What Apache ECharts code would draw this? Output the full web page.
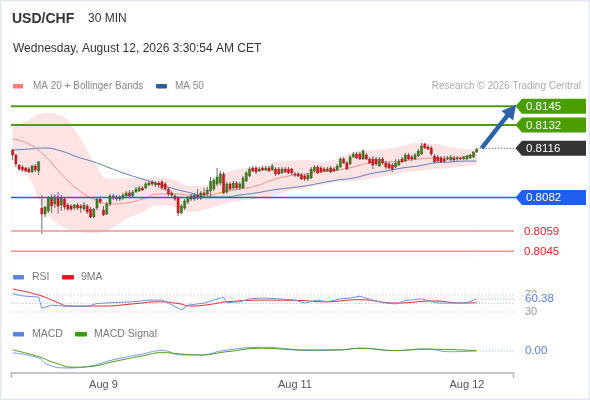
<!DOCTYPE html>
<html>
<head>
<meta charset="utf-8">
<script src="https://cdn.jsdelivr.net/npm/echarts@6/dist/echarts.min.js"></script>
<style>
html, body { margin: 0; padding: 0; background: #fff; }
#main { width: 590px; height: 400px; }
</style>
</head>
<body>
<div id="main"></div>
<script>
var chart = echarts.init(document.getElementById('main'));
var FONT = '"Liberation Sans", Arial, sans-serif';

// 30 MIN candles: [open, close, low, high]
var candles = [
  [0.81148, 0.81114, 0.81079, 0.81155], [0.81114, 0.81052, 0.81031, 0.81121], [0.81045, 0.81017, 0.81003, 0.81052],
  [0.81031, 0.81010, 0.80997, 0.81045], [0.81024, 0.81003, 0.80997, 0.81031], [0.81017, 0.80997, 0.80990, 0.81031],
  [0.80997, 0.81038, 0.80990, 0.81045], [0.81038, 0.81010, 0.80997, 0.81052], [0.81003, 0.81066, 0.80976, 0.81072],
  [0.80748, 0.80707, 0.80569, 0.80838], [0.80707, 0.80755, 0.80686, 0.80762], [0.80728, 0.80817, 0.80714, 0.80831],
  [0.80817, 0.80762, 0.80714, 0.80845], [0.80776, 0.80824, 0.80748, 0.80845], [0.80824, 0.80762, 0.80707, 0.80859],
  [0.80769, 0.80817, 0.80728, 0.80838], [0.80810, 0.80755, 0.80734, 0.80824], [0.80769, 0.80741, 0.80728, 0.80783],
  [0.80762, 0.80741, 0.80728, 0.80776], [0.80748, 0.80769, 0.80734, 0.80776], [0.80769, 0.80748, 0.80734, 0.80783],
  [0.80762, 0.80748, 0.80714, 0.80776], [0.80741, 0.80769, 0.80728, 0.80790], [0.80762, 0.80721, 0.80707, 0.80776],
  [0.80741, 0.80686, 0.80679, 0.80755], [0.80686, 0.80741, 0.80679, 0.80748], [0.80748, 0.80810, 0.80734, 0.80824],
  [0.80810, 0.80790, 0.80776, 0.80831], [0.80734, 0.80700, 0.80693, 0.80762], [0.80707, 0.80776, 0.80700, 0.80790],
  [0.80776, 0.80831, 0.80762, 0.80845], [0.80831, 0.80817, 0.80803, 0.80845], [0.80810, 0.80824, 0.80797, 0.80838],
  [0.80824, 0.80810, 0.80797, 0.80838], [0.80817, 0.80838, 0.80803, 0.80852], [0.80831, 0.80852, 0.80817, 0.80866],
  [0.80852, 0.80831, 0.80817, 0.80872], [0.80831, 0.80859, 0.80817, 0.80872], [0.80859, 0.80879, 0.80852, 0.80893],
  [0.80866, 0.80886, 0.80859, 0.80900], [0.80886, 0.80872, 0.80866, 0.80900], [0.80886, 0.80914, 0.80879, 0.80928],
  [0.80907, 0.80921, 0.80900, 0.80934], [0.80928, 0.80914, 0.80900, 0.80941], [0.80907, 0.80921, 0.80893, 0.80934],
  [0.80921, 0.80907, 0.80886, 0.80934], [0.80928, 0.80886, 0.80872, 0.80941], [0.80914, 0.80879, 0.80866, 0.80928],
  [0.80879, 0.80845, 0.80831, 0.80893], [0.80852, 0.80838, 0.80824, 0.80866], [0.80831, 0.80810, 0.80797, 0.80845],
  [0.80817, 0.80714, 0.80693, 0.80831], [0.80714, 0.80762, 0.80707, 0.80776], [0.80748, 0.80797, 0.80734, 0.80810],
  [0.80790, 0.80817, 0.80776, 0.80831], [0.80831, 0.80810, 0.80797, 0.80845], [0.80810, 0.80838, 0.80797, 0.80852],
  [0.80838, 0.80817, 0.80803, 0.80879], [0.80817, 0.80852, 0.80803, 0.80866], [0.80852, 0.80838, 0.80824, 0.80886],
  [0.80845, 0.80872, 0.80831, 0.80893], [0.80866, 0.80934, 0.80817, 0.80962], [0.80879, 0.80941, 0.80866, 0.80955],
  [0.80914, 0.80962, 0.80900, 0.81024], [0.80921, 0.80983, 0.80907, 0.81003], [0.80983, 0.80852, 0.80845, 0.80997],
  [0.80859, 0.80914, 0.80845, 0.80928], [0.80914, 0.80879, 0.80866, 0.80928], [0.80886, 0.80921, 0.80872, 0.80934],
  [0.80921, 0.80886, 0.80872, 0.80934], [0.80886, 0.80914, 0.80872, 0.80928], [0.80886, 0.80955, 0.80879, 0.80969],
  [0.80934, 0.80990, 0.80928, 0.81003], [0.80969, 0.81017, 0.80962, 0.81031], [0.81024, 0.81003, 0.80997, 0.81038],
  [0.81024, 0.80997, 0.80983, 0.81038], [0.81003, 0.81017, 0.80997, 0.81031], [0.81024, 0.81010, 0.81003, 0.81038],
  [0.81010, 0.81024, 0.81003, 0.81038], [0.81024, 0.81003, 0.80997, 0.81038], [0.81010, 0.81038, 0.81003, 0.81052],
  [0.81017, 0.80983, 0.80969, 0.81031], [0.81017, 0.80983, 0.80976, 0.81031], [0.80990, 0.81017, 0.80983, 0.81031],
  [0.81017, 0.80997, 0.80990, 0.81031], [0.81017, 0.80990, 0.80983, 0.81031], [0.81017, 0.80990, 0.80976, 0.81024],
  [0.80983, 0.80976, 0.80962, 0.80997], [0.80983, 0.80969, 0.80962, 0.80997], [0.80976, 0.80948, 0.80941, 0.80990],
  [0.80969, 0.80948, 0.80934, 0.80983], [0.80948, 0.80976, 0.80934, 0.80990], [0.80955, 0.81017, 0.80948, 0.81031],
  [0.81003, 0.81031, 0.80997, 0.81045], [0.81031, 0.80990, 0.80983, 0.81045], [0.81024, 0.80997, 0.80990, 0.81038],
  [0.81017, 0.81003, 0.80997, 0.81031], [0.81003, 0.81017, 0.80997, 0.81031], [0.81024, 0.80997, 0.80990, 0.81038],
  [0.81017, 0.81003, 0.80997, 0.81031], [0.81010, 0.81038, 0.81003, 0.81052], [0.81031, 0.81086, 0.81024, 0.81100],
  [0.81086, 0.81059, 0.81052, 0.81100], [0.81059, 0.81017, 0.81010, 0.81072], [0.81052, 0.81100, 0.81045, 0.81114],
  [0.81100, 0.81121, 0.81093, 0.81134], [0.81121, 0.81093, 0.81086, 0.81134], [0.81121, 0.81086, 0.81079, 0.81134],
  [0.81086, 0.81141, 0.81079, 0.81155], [0.81114, 0.81086, 0.81079, 0.81128], [0.81086, 0.81059, 0.81052, 0.81100],
  [0.81086, 0.81045, 0.81017, 0.81107], [0.81086, 0.81052, 0.81038, 0.81100], [0.81038, 0.81086, 0.81031, 0.81100],
  [0.81086, 0.81059, 0.81045, 0.81100], [0.81059, 0.81031, 0.81017, 0.81072], [0.81052, 0.81024, 0.81017, 0.81066],
  [0.81045, 0.81017, 0.80997, 0.81059], [0.81031, 0.81059, 0.81024, 0.81086], [0.81045, 0.81072, 0.81038, 0.81086],
  [0.81086, 0.81066, 0.81059, 0.81100], [0.81072, 0.81114, 0.81066, 0.81128], [0.81114, 0.81086, 0.81079, 0.81128],
  [0.81100, 0.81086, 0.81072, 0.81114], [0.81086, 0.81114, 0.81079, 0.81128], [0.81107, 0.81141, 0.81100, 0.81155],
  [0.81121, 0.81176, 0.81114, 0.81197], [0.81190, 0.81162, 0.81155, 0.81197], [0.81169, 0.81155, 0.81148, 0.81183],
  [0.81162, 0.81121, 0.81107, 0.81176], [0.81107, 0.81066, 0.81059, 0.81121], [0.81100, 0.81072, 0.81066, 0.81114],
  [0.81093, 0.81066, 0.81059, 0.81107], [0.81086, 0.81072, 0.81059, 0.81107], [0.81086, 0.81093, 0.81079, 0.81107],
  [0.81079, 0.81100, 0.81072, 0.81114], [0.81093, 0.81079, 0.81066, 0.81107], [0.81086, 0.81093, 0.81072, 0.81107],
  [0.81093, 0.81086, 0.81079, 0.81100], [0.81086, 0.81100, 0.81079, 0.81107], [0.81086, 0.81107, 0.81079, 0.81114],
  [0.81093, 0.81114, 0.81086, 0.81121], [0.81100, 0.81134, 0.81093, 0.81141], [0.81134, 0.81155, 0.81128, 0.81162]
];

// slots on the time axis (candles + empty room on the right)
var slotCount = 155;
var dayLabels = ['Aug 9', 'Aug 11', 'Aug 12'];
var dayLabelIndex = [28, 87, 140];

// indicator lines, [candle index, value]
var ma20 = [[0, 0.81224], [5, 0.81190], [10, 0.81107], [15, 0.80983], [20, 0.80879], [25, 0.80810], [30, 0.80776],
  [35, 0.80783], [40, 0.80810], [45, 0.80845], [50, 0.80845], [55, 0.80838], [60, 0.80838], [65, 0.80859],
  [70, 0.80879], [75, 0.80900], [80, 0.80941], [85, 0.80969], [90, 0.80983], [95, 0.80997], [100, 0.81010],
  [105, 0.81031], [110, 0.81059], [115, 0.81066], [120, 0.81072], [125, 0.81086], [130, 0.81093], [135, 0.81093],
  [140, 0.81107], [143, 0.81114]];
var ma50 = [[0, 0.81148], [5, 0.81155], [10, 0.81162], [15, 0.81141], [20, 0.81100], [25, 0.81066], [30, 0.81024],
  [35, 0.80983], [40, 0.80948], [45, 0.80914], [50, 0.80879], [55, 0.80852], [60, 0.80824], [65, 0.80824],
  [70, 0.80838], [75, 0.80852], [80, 0.80872], [85, 0.80886], [90, 0.80900], [95, 0.80921], [100, 0.80941],
  [105, 0.80955], [110, 0.80983], [115, 0.81003], [120, 0.81024], [125, 0.81038], [130, 0.81059], [135, 0.81066],
  [140, 0.81072], [143, 0.81072]];
var bbUpper = [[0, 0.81300], [5, 0.81355], [10, 0.81403], [15, 0.81383], [20, 0.81259], [25, 0.81072], [30, 0.80948],
  [35, 0.80955], [40, 0.80955], [45, 0.80955], [50, 0.80941], [55, 0.80900], [60, 0.80907], [65, 0.80983],
  [70, 0.81017], [75, 0.81031], [80, 0.81059], [85, 0.81072], [90, 0.81079], [95, 0.81066], [100, 0.81086],
  [105, 0.81134], [110, 0.81148], [115, 0.81155], [120, 0.81176], [125, 0.81197], [130, 0.81190], [135, 0.81169],
  [140, 0.81155], [143, 0.81155]];
var bbLower = [[0, 0.81128], [5, 0.80962], [10, 0.80728], [15, 0.80624], [20, 0.80590], [25, 0.80576], [30, 0.80603],
  [35, 0.80672], [40, 0.80721], [45, 0.80769], [50, 0.80755], [55, 0.80721], [60, 0.80741], [65, 0.80776],
  [70, 0.80797], [75, 0.80810], [80, 0.80831], [85, 0.80866], [90, 0.80886], [95, 0.80907], [100, 0.80928],
  [105, 0.80934], [110, 0.80948], [115, 0.80969], [120, 0.80990], [125, 0.81003], [130, 0.81017], [135, 0.81024],
  [140, 0.81038], [143, 0.81045]];

var rsi = [[0, 73], [3, 68], [8, 65], [9, 39], [12, 46], [16, 44], [23, 43], [26, 50], [31, 52], [37, 54], [42, 58],
  [46, 58], [48, 51], [52, 35], [54, 46], [59, 51], [62, 58], [65, 65], [66, 52], [70, 54], [73, 61], [77, 63],
  [82, 61], [87, 58], [90, 51], [94, 58], [97, 54], [101, 61], [104, 63], [107, 67], [111, 58], [114, 52],
  [118, 49], [121, 57], [126, 61], [131, 51], [135, 51], [140, 52], [143, 60.38]];
var rsiMa = [[0, 84], [8, 70], [14, 52], [17, 44], [28, 44], [37, 49], [45, 54], [51, 50], [55, 44], [61, 48],
  [66, 54], [78, 58], [89, 57], [96, 54], [107, 59], [118, 51], [130, 56], [138, 51], [143, 52]];
var rsiLevels = [30, 50, 70];

var macd = [[0, -0.00007], [8, -0.00029], [11, -0.00059], [17, -0.00072], [23, -0.00066], [31, -0.00037],
  [40, -0.00012], [46, 0.00003], [52, -0.00016], [58, -0.00016], [65, 0.00003], [77, 0.00017], [83, 0.00013],
  [91, 0.00003], [101, 0.00006], [107, 0.00013], [118, 0.00003], [127, 0.00010], [135, -0.00002], [143, 0.00001]];
var macdSignal = [[0, 0.00006], [8, -0.00023], [13, -0.00050], [19, -0.00069], [24, -0.00066], [31, -0.00045],
  [40, -0.00020], [46, -0.00006], [52, -0.00012], [58, -0.00016], [66, -0.00002], [77, 0.00013], [89, 0.00006],
  [101, 0.00006], [107, 0.00013], [118, 0.00003], [127, 0.00009], [143, 0.00003]];

// key levels
var resistances = [0.8145, 0.8132];
var lastPrice = 0.8116;
var pivot = 0.8082;
var supports = [0.8059, 0.8045];
var arrowTarget = 0.8146;

var categories = [];
for (var k = 0; k < slotCount; k++) categories.push('');
dayLabelIndex.forEach(function (idx, n) { categories[idx] = dayLabels[n]; });

function hidden(grid, min, max) {
  return { type: 'value', gridIndex: grid, min: min, max: max, show: false, splitLine: { show: false } };
}
function xCat(grid, visible) {
  return {
    type: 'category', gridIndex: grid, data: categories, boundaryGap: true,
    axisLine: { show: visible, onZero: false, lineStyle: { color: '#b5b5b5', width: 1.5 } },
    axisTick: { show: false },
    axisLabel: { show: visible, interval: 0, color: '#555', fontSize: 11, fontFamily: FONT, margin: 6 },
    splitLine: { show: false }
  };
}

var option = {
  animation: false,
  backgroundColor: '#fff',
  grid: [
    { left: 11, right: 76, top: 99, height: 159.5 },
    { left: 11, right: 76, top: 286.5, height: 34 },
    { left: 11, right: 76, top: 342, height: 31 }
  ],
  xAxis: [xCat(0, false), xCat(1, false), xCat(2, true)],
  yAxis: [hidden(0, 0.8040, 0.8150), hidden(1, 10, 90), hidden(2, -0.00094, 0.0004)],
  series: [
    { name: 'BB upper', type: 'line', xAxisIndex: 0, yAxisIndex: 0, data: bbUpper, smooth: true, symbol: 'none',
      lineStyle: { opacity: 0 }, areaStyle: { color: '#fde3e3', opacity: 1, origin: 'start' }, z: 1 },
    { name: 'BB lower', type: 'line', xAxisIndex: 0, yAxisIndex: 0, data: bbLower, smooth: true, symbol: 'none',
      lineStyle: { opacity: 0 }, areaStyle: { color: '#ffffff', opacity: 1, origin: 'start' }, z: 1 },
    { name: 'MA 50', type: 'line', xAxisIndex: 0, yAxisIndex: 0, data: ma50, smooth: true, symbol: 'none',
      lineStyle: { color: '#5a7db8', width: 1 }, z: 2 },
    { name: 'MA 20', type: 'line', xAxisIndex: 0, yAxisIndex: 0, data: ma20, smooth: true, symbol: 'none',
      lineStyle: { color: '#f39090', width: 1 }, z: 2 },
    { name: 'USD/CHF', type: 'custom', xAxisIndex: 0, yAxisIndex: 0, z: 3,
      data: candles.map(function (c, i) { return [i, c[0], c[1], c[2], c[3]]; }),
      encode: { x: 0, y: [1, 2, 3, 4] },
      renderItem: function (params, api) {
        var i = api.value(0), o = api.value(1), c = api.value(2);
        var pH = api.coord([i, api.value(4)]), pL = api.coord([i, api.value(3)]);
        var pO = api.coord([i, o]), pC = api.coord([i, c]);
        var w = api.size([1, 0])[0] * 0.64;
        var up = c >= o;
        var top = Math.min(pO[1], pC[1]);
        var h = Math.max(Math.abs(pO[1] - pC[1]), 1);
        return { type: 'group', children: [
          { type: 'line', shape: { x1: pH[0], y1: pH[1], x2: pL[0], y2: pL[1] }, style: { stroke: '#6b6b6b', lineWidth: 1 } },
          { type: 'rect', shape: { x: pO[0] - w / 2, y: top, width: w, height: h },
            style: { fill: up ? '#3f7f1d' : '#d9161c', stroke: up ? '#2f6313' : '#a51016', lineWidth: 0.5 } }
        ] };
      } },
    { name: 'RSI', type: 'line', xAxisIndex: 1, yAxisIndex: 1, data: rsi, symbol: 'none',
      lineStyle: { color: '#6d8fe4', width: 1 }, z: 3 },
    { name: '9MA', type: 'line', xAxisIndex: 1, yAxisIndex: 1, data: rsiMa, smooth: true, symbol: 'none',
      lineStyle: { color: '#e8262b', width: 1 }, z: 2 },
    { name: 'MACD', type: 'line', xAxisIndex: 2, yAxisIndex: 2, data: macd, smooth: true, symbol: 'none',
      lineStyle: { color: '#7898e8', width: 1 }, z: 2 },
    { name: 'MACD Signal', type: 'line', xAxisIndex: 2, yAxisIndex: 2, data: macdSignal, smooth: true, symbol: 'none',
      lineStyle: { color: '#4c9c18', width: 1 }, z: 3 }
  ]
};
chart.setOption(option);

// overlay lines, texts, tags and the arrow, placed through the axes
function yPix(axis, v) { return chart.convertToPixel({ yAxisIndex: axis }, v); }
function xPix(axis, i) { return chart.convertToPixel({ xAxisIndex: axis }, i); }
function txt(x, y, s, size, color, extra, z) {
  var st = { text: s, fill: color, font: size + 'px ' + FONT, verticalAlign: 'middle', align: 'left' };
  if (extra) for (var p in extra) st[p] = extra[p];
  return { type: 'text', x: x, y: y, style: st, z: z || 20 };
}
function swatch(x, y, w, color) {
  return { type: 'rect', shape: { x: x, y: y - 2, width: w, height: 4.5, r: 1 }, style: { fill: color }, z: 20 };
}
function hline(y, x1, x2, color, width, dash, z) {
  var st = { stroke: color, lineWidth: width };
  if (dash) st.lineDash = dash;
  return { type: 'line', shape: { x1: x1, y1: y, x2: x2, y2: y }, style: st, z: z || 4, silent: true };
}
function tag(v, color) {
  var y = yPix(0, v);
  return [
    { type: 'polygon', shape: { points: [[515.5, y], [522, y - 7.5], [586, y - 7.5], [586, y + 7.5], [522, y + 7.5]] },
      style: { fill: color }, z: 20 },
    txt(526, y + 0.5, v.toFixed(4), 11.5, '#fff', null, 21)
  ];
}

var g = [];
g.push({ type: 'rect', shape: { x: 0.75, y: 0.75, width: 588.5, height: 398.5 },
  style: { fill: 'transparent', stroke: '#e3e8ee', lineWidth: 1.5 }, z: 30 });
g.push(txt(12, 19, 'USD/CHF', 14, '#333', { font: 'bold 14px ' + FONT }));
g.push(txt(88, 19, '30 MIN', 12, '#333'));
g.push(txt(13, 49, 'Wednesday, August 12, 2026 3:30:54 AM CET', 12, '#333'));
g.push(swatch(13, 86, 10, '#ff7b7b'));
g.push(txt(33, 86, 'MA 20 + Bollinger Bands', 10, '#888'));
g.push(swatch(156, 86, 11, '#2f5c9c'));
g.push(txt(175, 86, 'MA 50', 10, '#888'));
g.push(txt(581, 86, 'Research \u00a9 2026 Trading Central', 10, '#aaa', { align: 'right' }));
g.push(swatch(13, 277, 11, '#5b82e0'));
g.push(txt(32, 277, 'RSI', 10.5, '#777'));
g.push(swatch(62, 277, 12, '#e8191c'));
g.push(txt(81, 277, '9MA', 10.5, '#777'));
g.push(swatch(13, 334, 11, '#5b82e0'));
g.push(txt(32, 334, 'MACD', 10.5, '#777'));
g.push(swatch(75, 334, 12, '#3d9a0c'));
g.push(txt(94, 334, 'MACD Signal', 10.5, '#777'));

// level lines across the price grid
resistances.forEach(function (v) { g.push(hline(yPix(0, v), 11, 516, '#4f9c10', 2)); });
g.push(hline(yPix(0, pivot), 11, 516, '#1f5ff0', 1.5));
supports.forEach(function (v) { g.push(hline(yPix(0, v), 11, 514, '#f19292', 1.5)); });

resistances.forEach(function (v) { g = g.concat(tag(v, '#4a9e00')); });
g = g.concat(tag(lastPrice, '#333333'));
g = g.concat(tag(pivot, '#1f5ff0'));
supports.forEach(function (v) { g.push(txt(524, yPix(0, v) + 0.5, v.toFixed(4), 11.5, '#e8232b')); });

// dotted line from the last candle to the price tag
var lastX = xPix(0, candles.length - 1);
var yLast = yPix(0, lastPrice);
g.push(hline(yLast, lastX + 3, 515, '#333', 1, [1, 2], 20));

// arrow to the target
var a0 = [lastX + 5, yPix(0, candles[candles.length - 1][1]) - 1];
var a1 = [516, yPix(0, arrowTarget)];
var dx = a1[0] - a0[0], dy = a1[1] - a0[1], len = Math.sqrt(dx * dx + dy * dy);
var ux = dx / len, uy = dy / len, hl = 14, hw = 7.5;
var base = [a1[0] - ux * hl, a1[1] - uy * hl];
g.push({ type: 'line', shape: { x1: a0[0], y1: a0[1], x2: base[0] + ux * 2, y2: base[1] + uy * 2 },
  style: { stroke: '#2d62a8', lineWidth: 4.5 }, z: 22 });
g.push({ type: 'polygon', shape: { points: [a1, [base[0] - uy * hw, base[1] + ux * hw], [base[0] + uy * hw, base[1] - ux * hw]] },
  style: { fill: '#2d62a8' }, z: 22 });

// RSI guide lines and side labels
rsiLevels.forEach(function (v) { g.push(hline(yPix(1, v), 11, 514, '#c4c4c4', 1, [1, 2], 1)); });
var rsiLast = rsi[rsi.length - 1][1];
var yR = yPix(1, rsiLast);
g.push(txt(525, yPix(1, 70), '70', 11, '#999'));
g.push(txt(525, yPix(1, 30), '30', 11, '#999'));
g.push({ type: 'rect', shape: { x: 521, y: yR - 6, width: 40, height: 12 }, style: { fill: '#fff' }, z: 21 });
g.push(txt(525, yR, rsiLast.toFixed(2), 11.5, '#5b82e0', null, 22));
var rsiX = xPix(1, rsi[rsi.length - 1][0]);
g.push(hline(yR, rsiX + 3, 515, '#8aa4ea', 1, [1, 2], 20));

// MACD side label
var macdLast = macd[macd.length - 1][1];
var yM = yPix(2, macdLast);
var macdX = xPix(2, macd[macd.length - 1][0]);
g.push(hline(yM, macdX + 3, 515, '#8aa4ea', 1, [1, 2], 20));
g.push(txt(525, yM, macdLast.toFixed(2), 11.5, '#5b82e0'));

// end ticks of the time axis
g.push({ type: 'line', shape: { x1: 11.5, y1: 373, x2: 11.5, y2: 378 }, style: { stroke: '#b5b5b5', lineWidth: 1.5 }, z: 20 });
g.push({ type: 'line', shape: { x1: 513.5, y1: 373, x2: 513.5, y2: 378 }, style: { stroke: '#b5b5b5', lineWidth: 1.5 }, z: 20 });

chart.setOption({ graphic: g });
</script>
</body>
</html>
